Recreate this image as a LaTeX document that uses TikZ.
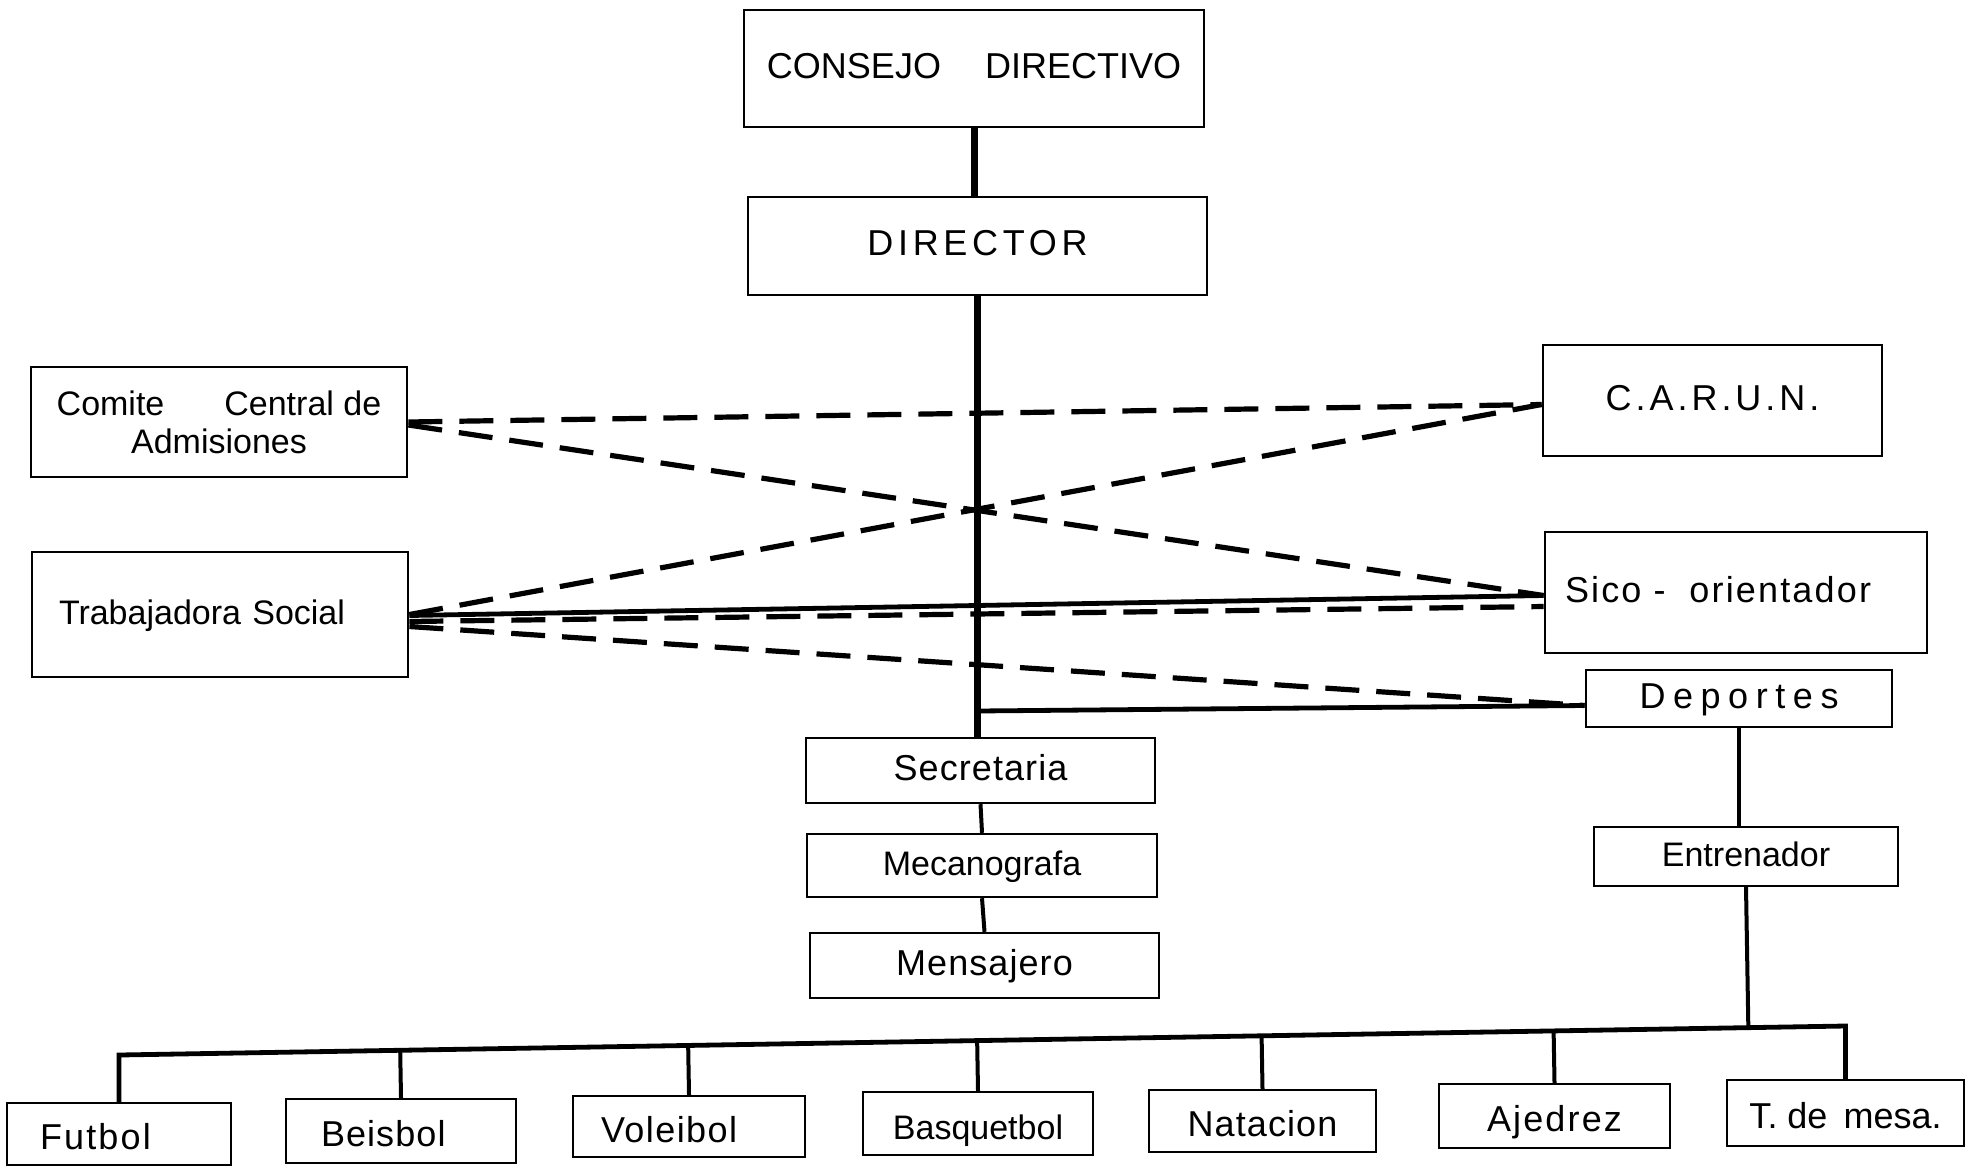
\documentclass[tikz,border=0pt]{standalone}
\usepackage{fontspec}
\setmainfont{Liberation Sans}
\usetikzlibrary{calc}

\tikzset{
    marco/.style={draw, line width=1.4pt, inner sep=0pt},
    caja/.style={marco, font=\fontsize{18}{20}\selectfont, text height=13pt, text depth=3.5pt},
    chica/.style={caja, line width=1.2pt},
    fila/.style={chica, text height=17pt, text depth=1.5pt},
    sp/.style={font=\fontsize{18}{20}\selectfont\addfontfeature{LetterSpace=#1}},
    chico/.style={font=\fontsize{17}{19}\selectfont},
    izq/.style 2 args={align=left, inner xsep=#1, text width=#2},
    tronco/.style={line width=3.5pt},
    rama/.style={line width=2.4pt},
    enlace/.style={line width=2pt},
    discont/.style={line width=2.6pt, dash pattern=on 17pt off 8.5pt}
}

\begin{document}
\begin{tikzpicture}[x=0.5pt, y=-0.5pt]
            \fill[white] (0,0) rectangle (1973,1167);
            \useasboundingbox (0,0) rectangle (1973,1167);

            \node[caja, minimum width=230pt, minimum height=58.5pt] (consejo) at (974,68.5) {CONSEJO\hspace{22pt}DIRECTIVO};
            \node[caja, sp=13, minimum width=229.5pt, minimum height=49pt] (director) at (977.5,246) {DIRECTOR};

            \node[marco, chico, align=center, minimum width=188pt, minimum height=55pt] (comite) at (219,422) {Comite\hspace{30pt}Central de\\Admisiones};
            \node[caja, chico, izq={13.5pt}{161pt}, minimum width=188pt, minimum height=62.5pt] (trabajadora) at (220,614.5) {Trabajadora Social};
            \node[caja, sp=11, minimum width=169.5pt, minimum height=55.5pt] (carun) at (1712.5,400.5) {C.A.R.U.N.};
            \node[caja, sp=6, izq={10pt}{171pt}, minimum width=191pt, minimum height=60.5pt] (sico) at (1736,592.5) {Sico -\hspace{12pt}orientador};
            \node[caja, sp=21, minimum width=153pt, minimum height=28.5pt] (deportes) at (1739,698.5) {Deportes};
            \node[chica, chico, minimum width=152pt, minimum height=29.5pt] (entrenador) at (1746,856.5) {Entrenador};

            \node[chica, sp=3, minimum width=174.5pt, minimum height=32.5pt] (secretaria) at (980.5,770.5) {Secretaria};
            \node[chica, chico, minimum width=175pt, minimum height=31.5pt] (mecanografa) at (982,865.5) {Mecanografa};
            \node[chica, sp=3, minimum width=174.5pt, minimum height=32.5pt] (mensajero) at (984.5,965.5) {Mensajero};

            \node[fila, sp=6, izq={16.5pt}{79pt}, minimum width=112pt, minimum height=31pt] (futbol) at (119,1134) {Futbol};
            \node[fila, sp=3, izq={17.5pt}{80pt}, minimum width=115pt, minimum height=32pt] (beisbol) at (401,1131) {Beisbol};
            \node[fila, sp=4, izq={14pt}{88pt}, minimum width=116pt, minimum height=30.5pt] (voleibol) at (689,1126.5) {Voleibol};
            \node[fila, chico, minimum width=115pt, minimum height=31.5pt] (basquetbol) at (978,1123.5) {Basquetbol};
            \node[fila, sp=3, minimum width=113.5pt, minimum height=31pt] (natacion) at (1262.5,1121) {Natacion};
            \node[fila, sp=6, minimum width=115.5pt, minimum height=32pt] (ajedrez) at (1554.5,1116) {Ajedrez};
            \node[fila, minimum width=118.5pt, minimum height=33pt] (tmesa) at (1845.5,1113) {T.\ de\hspace{8pt}mesa.};

            \coordinate (nudo) at (977.5,711);
            \coordinate (bi) at (119,1055);
            \coordinate (bd) at (1845.5,1026);

            \draw[tronco] (consejo.south) -- (consejo.south |- director.north);
            \draw[tronco] (director.south) -- (director.south |- secretaria.north);
            \draw[rama] (nudo) -- ([yshift=-3.5pt]deportes.west);
            \draw[enlace] (secretaria.south) -- (mecanografa.north);
            \draw[enlace] (mecanografa.south) -- (mensajero.north);
            \draw[enlace] (deportes.south) -- (deportes.south |- entrenador.north);

            \draw[discont] (comite.east) -- ([yshift=-2pt]carun.west);
            \draw[discont] ([yshift=-1.5pt]comite.east) -- ([yshift=-1.5pt]sico.west);
            \draw[discont] (trabajadora.east) -- ([yshift=-2pt]carun.west);
            \draw[rama] ([yshift=-0.5pt]trabajadora.east) -- ([yshift=-1.5pt]sico.west);
            \draw[discont] ([yshift=-3.5pt]trabajadora.east) -- ([yshift=-7pt]sico.west);
            \draw[discont] ([yshift=-6pt]trabajadora.east) -- ([yshift=-3.5pt]deportes.west);

            \draw[rama] (futbol.north) -- (bi) -- (bd) -- (tmesa.north);
            \draw[enlace] (entrenador.south) -- ($(bi)!(entrenador.south)!(bd)$);
            \foreach \n in {beisbol,voleibol,basquetbol,natacion,ajedrez}
                \draw[enlace] (\n.north) -- ($(bi)!(\n.north)!(bd)$);
\end{tikzpicture}
\end{document}
